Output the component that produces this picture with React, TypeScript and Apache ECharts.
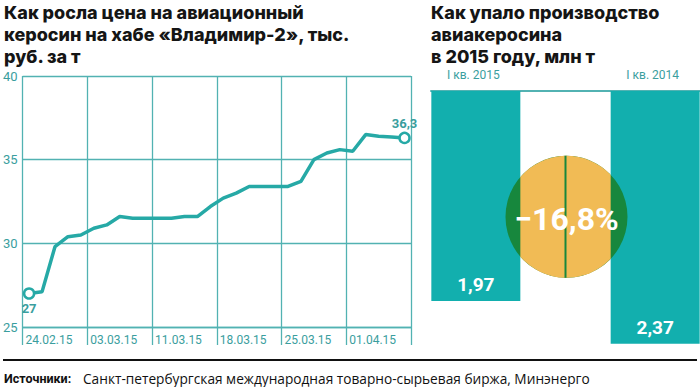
import React, { useEffect, useRef } from "react";
import * as echarts from "echarts";

// ---- data ----
const DATE_LABELS = ["24.02.15", "03.03.15", "11.03.15", "18.03.15", "25.03.15", "01.04.15"];
const PRICES = [
  27.0, 27.1, 29.8, 30.4, 30.5, 30.9, 31.1, 31.6, 31.5, 31.5,
  31.5, 31.5, 31.6, 31.6, 32.2, 32.7, 33.0, 33.4, 33.4, 33.4,
  33.4, 33.7, 35.0, 35.4, 35.6, 35.5, 36.5, 36.4, 36.35, 36.3,
];
const Y_TICKS = [25, 30, 35, 40];
const QUARTERS = ["I кв. 2015", "", "I кв. 2014"];
const OUTPUT = [1.97, null, 2.37];
const CHANGE_TEXT = "−16,8%";

const TITLE_LEFT = "Как росла цена на авиационный\nкеросин на хабе «Владимир-2», тыс.\nруб. за т";
const TITLE_RIGHT = "Как упало производство\nавиакеросина\nв 2015 году, млн т";
const SOURCE_HEAD = "Источники:";
const SOURCE_TEXT = "Санкт-петербургская международная товарно-сырьевая биржа, Минэнерго";

// ---- style ----
const FONT = "Roboto";
const TITLE_FONT = "Inter";
const TEAL_LINE = "#26a9a6";
const TEAL_GRID = "#52b2b2";
const TEAL_TEXT = "#3a9e9e";
const TEAL_BAR = "#12afae";
const ORANGE = "#f1bb55";
const GREEN = "#17873d";
const BAR_W = 89;
const CIRCLE_Y = 1.18;
const CIRCLE_R = 61;

const fmt = (v: number) => String(v).replace(".", ",");

export default function App() {
  const ref = useRef<HTMLDivElement>(null);
  useEffect(() => {
    if (!ref.current) return;
    const chart = echarts.init(ref.current, undefined, { renderer: "svg" });
    const last = PRICES.length - 1;
    const titleStyle = {
      fontFamily: TITLE_FONT,
      fontSize: 18,
      fontWeight: 800,
      lineHeight: 22,
      color: "#151515",
    };
    chart.setOption({
      animation: false,
      title: [
        { text: TITLE_LEFT, left: 4, top: 1, padding: 0, textStyle: titleStyle },
        { text: TITLE_RIGHT, left: 431, top: 1, padding: 0, textStyle: titleStyle },
      ],
      grid: [
        { left: 22, top: 76, width: 389, height: 251 },
        { left: 431, top: 91, width: 269, height: 266.5 },
      ],
      xAxis: [
        {
          type: "value",
          gridIndex: 0,
          min: 0,
          max: DATE_LABELS.length * 5,
          interval: 5,
          axisLine: { show: true, lineStyle: { color: TEAL_GRID, width: 1.3 } },
          axisTick: { show: true, length: 18, lineStyle: { color: TEAL_GRID, width: 1.3 } },
          splitLine: { show: true, lineStyle: { color: TEAL_GRID, width: 1.3 } },
          axisLabel: {
            color: TEAL_TEXT,
            fontFamily: FONT,
            fontSize: 12,
            align: "left",
            margin: 7,
            padding: [0, 0, 0, 3],
            formatter: (v: number) => DATE_LABELS[Math.round(v / 5)] ?? "",
          },
        },
        {
          type: "category",
          gridIndex: 1,
          position: "top",
          offset: 6,
          data: QUARTERS,
          boundaryGap: true,
          axisLine: { show: true, lineStyle: { color: TEAL_GRID, width: 2 } },
          axisTick: { show: false },
          splitLine: { show: false },
          axisLabel: { color: TEAL_TEXT, fontFamily: FONT, fontSize: 12, margin: 4, padding: [0, 5, 0, 0] },
        },
      ],
      yAxis: [
        {
          type: "value",
          gridIndex: 0,
          min: Y_TICKS[0],
          max: Y_TICKS[Y_TICKS.length - 1],
          interval: 5,
          axisLine: { show: false },
          axisTick: { show: false },
          splitLine: { show: true, lineStyle: { color: TEAL_GRID, width: 1.3 } },
          axisLabel: { color: TEAL_TEXT, fontFamily: FONT, fontSize: 13, margin: 5 },
        },
        { type: "value", gridIndex: 1, inverse: true, min: 0, max: 2.5, show: false },
      ],
      series: [
        {
          type: "line",
          xAxisIndex: 0,
          yAxisIndex: 0,
          showSymbol: true,
          z: 3,
          lineStyle: { color: TEAL_LINE, width: 3.5 },
          itemStyle: { color: "#ffffff", borderColor: TEAL_LINE, borderWidth: 2.5 },
          data: PRICES.map((v, i) => {
            const edge = i === 0 || i === last;
            return {
              value: [i + 0.5, v],
              symbol: edge ? "circle" : "none",
              symbolSize: 10,
              label: {
                show: edge,
                position: i === 0 ? "bottom" : "top",
                distance: 2,
                color: TEAL_TEXT,
                fontFamily: FONT,
                fontSize: 13,
                fontWeight: "bold",
                formatter: (p: any) => fmt(p.value[1]),
              },
            };
          }),
        },
        {
          type: "bar",
          xAxisIndex: 1,
          yAxisIndex: 1,
          barWidth: BAR_W,
          clip: false,
          z: 2,
          itemStyle: { color: TEAL_BAR },
          label: {
            show: true,
            position: "insideBottom",
            distance: 7,
            color: "#ffffff",
            fontFamily: FONT,
            fontSize: 19,
            fontWeight: "bold",
            formatter: (p: any) => fmt(p.value),
          },
          data: OUTPUT,
          markLine: {
            silent: true,
            symbol: ["none", "none"],
            label: { show: false },
            lineStyle: { color: TEAL_GRID, width: 2, type: "solid" },
            data: [[{ coord: [1, -0.056] }, { coord: [1, 2.37] }]],
          },
        },
        {
          type: "custom",
          xAxisIndex: 1,
          yAxisIndex: 1,
          z: 5,
          silent: true,
          data: [[1, CIRCLE_Y]],
          renderItem: (params: any, api: any) => {
            const c = api.coord([api.value(0), api.value(1)]);
            const cx = c[0] + 1;
            const cy = c[1];
            const r = CIRCLE_R;
            const xl = api.coord([0, 0])[0] + BAR_W / 2;
            const xr = api.coord([2, 0])[0] - BAR_W / 2;
            const hl = Math.sqrt(Math.max(0, r * r - (cx - xl) * (cx - xl)));
            const hr = Math.sqrt(Math.max(0, r * r - (xr - cx) * (xr - cx)));
            const d = `M ${xl} ${cy - hl} A ${r} ${r} 0 0 1 ${xr} ${cy - hr} L ${xr} ${cy + hr} A ${r} ${r} 0 0 1 ${xl} ${cy + hl} Z`;
            const lx = c[0];
            const lh = Math.sqrt(Math.max(0, r * r - (lx - cx) * (lx - cx)));
            return {
              type: "group",
              children: [
                { type: "circle", shape: { cx, cy, r }, style: { fill: GREEN } },
                { type: "path", shape: { pathData: d }, style: { fill: ORANGE } },
                {
                  type: "line",
                  shape: { x1: lx, y1: cy - lh, x2: lx, y2: cy + lh },
                  style: { stroke: GREEN, lineWidth: 2 },
                },
                {
                  type: "text",
                  x: cx,
                  y: cy + 2,
                  style: {
                    text: CHANGE_TEXT,
                    fill: "#ffffff",
                    font: `bold 32px ${FONT}`,
                    align: "center",
                    verticalAlign: "middle",
                  },
                },
              ],
            };
          },
        },
      ],
      graphic: [
        {
          type: "line",
          shape: { x1: 3, y1: 360, x2: 697, y2: 360 },
          style: { stroke: "#111111", lineWidth: 2 },
        },
        {
          type: "text",
          x: 4,
          y: 378,
          style: {
            text: SOURCE_HEAD,
            fill: "#111111",
            font: `bold 12.5px ${FONT}`,
            verticalAlign: "middle",
          },
        },
        {
          type: "text",
          x: 83,
          y: 378,
          style: {
            text: SOURCE_TEXT,
            fill: "#111111",
            font: `13.7px 'Open Sans'`,
            verticalAlign: "middle",
          },
        },
      ],
    });
    return () => chart.dispose();
  }, []);
  return (
    <div
      ref={ref}
      style={{ position: "absolute", left: 0, top: 0, width: 700, height: 387, background: "#ffffff" }}
    />
  );
}
